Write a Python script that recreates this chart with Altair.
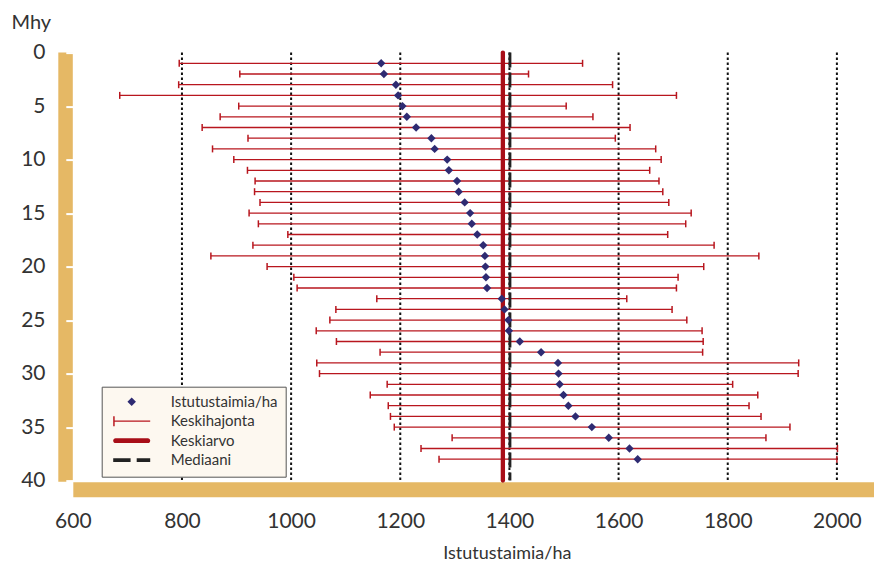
import altair as alt
import pandas as pd

# ---- data ----
mhy = list(range(1, 39))
taimia = [1165, 1170, 1192, 1196, 1204, 1212, 1229, 1257, 1263, 1286,
          1289, 1304, 1307, 1318, 1328, 1331, 1341, 1352, 1355, 1356,
          1357, 1359, 1386, 1391, 1398, 1399, 1419, 1458, 1489, 1490,
          1492, 1499, 1508, 1521, 1551, 1582, 1620, 1635]
ala = [795, 906, 794, 686, 904, 870, 837, 921, 856, 895,
       920, 934, 933, 943, 923, 940, 994, 930, 853, 956,
       1005, 1011, 1157, 1082, 1071, 1046, 1083, 1163, 1047, 1052,
       1176, 1145, 1178, 1182, 1189, 1295, 1238, 1271]
yla = [1534, 1435, 1589, 1706, 1504, 1553, 1621, 1594, 1668, 1678,
       1657, 1674, 1681, 1692, 1733, 1723, 1690, 1775, 1857, 1756,
       1709, 1706, 1615, 1698, 1725, 1753, 1755, 1754, 1930, 1929,
       1809, 1855, 1839, 1861, 1914, 1870, 2001, 2000]
mean_value = [1388]
median_value = [1401]
grid_values = [800, 1000, 1200, 1400, 1600, 1800, 2000]
x_ticks = [600, 800, 1000, 1200, 1400, 1600, 1800, 2000]
y_ticks = [0, 5, 10, 15, 20, 25, 30, 35, 40]
legend_labels = ["Istutustaimia/ha", "Keskihajonta", "Keskiarvo", "Mediaani"]

# ---- styling ----
ORANGE = "#E5B865"
CREAM = "#FDF8F0"
BAR_RED = "#B8161E"
MEAN_RED = "#A80E18"
NAVY = "#2E2B72"
DARK = "#222222"
TEXT = "#333333"
FONT = "Lato"
W, H = 801, 428

legend_paths = [
    "M0,-0.23L0.23,0L0,0.23L-0.23,0Z",
    "M-1,-0.035H1V0.035H-1Z M-1,-0.27H-0.92V0.27H-1Z",
    "M-0.873,-0.127H0.873A0.127,0.127 0 0 1 0.873,0.127H-0.873A0.127,0.127 0 0 1 -0.873,-0.127Z",
    "M-1,-0.1H-0.06V0.1H-1Z M0.27,-0.1H1V0.1H0.27Z",
]

df = pd.DataFrame({"Mhy": mhy, "Taimia": taimia, "Ala": ala, "Yla": yla})
mean_df = pd.DataFrame({"v": mean_value})
median_df = pd.DataFrame({"v": median_value})
grid_df = pd.DataFrame({"v": grid_values})
legend_df = pd.DataFrame({"lbl": legend_labels})
one_df = pd.DataFrame({"k": [0]})

xs = alt.Scale(domain=[600, 2067.6], nice=False, zero=False)
ys = alt.Scale(domain=[0, 40], reverse=True, nice=False, zero=False)

x_axis = alt.Axis(values=x_ticks, format="d", grid=False, ticks=False, tickSize=0,
                  domain=True, domainColor=ORANGE, domainWidth=15, domainCap="butt",
                  offset=8.6, labelPadding=21, labelFont=FONT, labelFontSize=21,
                  labelColor=TEXT, labelFlush=False, labelOverlap=False,
                  title="Istutustaimia/ha", titleFont=FONT,
                  titleFontSize=18, titleFontWeight="normal", titleColor=TEXT,
                  titleX=434, titleY=69.8, titleAlign="center", titleBaseline="alphabetic")
y_axis = alt.Axis(values=y_ticks, grid=False, domain=False, ticks=True, tickColor="white",
                  tickSize=7, tickWidth=2, labelPadding=20.8, labelFont=FONT,
                  labelFontSize=21, labelColor=TEXT, labelFlush=False, labelOverlap=False,
                  title="Mhy", titleAngle=0,
                  titleX=-42, titleY=-24.1, titleAlign="center", titleBaseline="alphabetic",
                  titleFont=FONT, titleFontSize=20, titleFontWeight="normal",
                  titleColor=TEXT, zindex=1)


def X(field, **kw):
    return alt.X(field, type="quantitative", scale=xs, axis=x_axis, **kw)


def Y(field):
    return alt.Y(field, type="quantitative", scale=ys, axis=y_axis)


grid = alt.Chart(grid_df).mark_rule(color="#111111", strokeWidth=2,
                                    strokeDash=[2.5, 2.5]).encode(x=X("v"))

left_strip = alt.Chart(one_df).mark_rect(color=ORANGE).encode(
    x=alt.value(-14.5), x2=alt.value(0), y=alt.value(0), y2=alt.value(H + 1.1))

bars = alt.Chart(df).mark_rule(color=BAR_RED, strokeWidth=1.3).encode(
    x=X("Ala"), x2="Yla", y=Y("Mhy"))

caps = alt.Chart(df).transform_fold(["Ala", "Yla"], as_=["k", "v"]).mark_tick(
    orient="vertical", color=BAR_RED, thickness=1.5, size=7, opacity=1).encode(
    x=X("v"), y=Y("Mhy"))

mean_rule = alt.Chart(mean_df).mark_rule(color=MEAN_RED, strokeWidth=4.3,
                                         strokeCap="round").encode(x=X("v"))
median_rule = alt.Chart(median_df).mark_rule(color=DARK, strokeWidth=2.8,
                                             strokeDash=[15, 5]).encode(x=X("v"))

points = alt.Chart(df).mark_point(shape="diamond", filled=True, size=70,
                                  color=NAVY, opacity=1).encode(
    x=X("Taimia"), y=Y("Mhy"))

legend_layer = alt.Chart(legend_df).transform_filter("false").mark_point(
    filled=True, opacity=1, size=1369).encode(
    color=alt.Color("lbl:N", scale=alt.Scale(domain=legend_labels,
                    range=[NAVY, BAR_RED, MEAN_RED, DARK]), legend=alt.Legend(title=None)),
    shape=alt.Shape("lbl:N", scale=alt.Scale(domain=legend_labels, range=legend_paths),
                    legend=alt.Legend(title=None)),
)

chart = alt.layer(grid, left_strip, bars, caps, mean_rule, median_rule, points,
                  legend_layer).properties(
    width=W, height=H,
    autosize=alt.AutoSizeParams(type="none"),
    padding={"left": 64.8, "top": 44.6, "right": 0, "bottom": 82.4},
).configure_view(fill=CREAM, stroke=None).configure_legend(
    orient="none", legendX=28.9, legendY=334.1, padding=8, rowPadding=4.5,
    symbolSize=1369, clipHeight=14, labelFont=FONT, labelFontSize=15,
    labelColor=TEXT, labelOffset=20.5, symbolOffset=3.5, fillColor=CREAM,
    strokeColor="#555555", symbolStrokeWidth=0, cornerRadius=0,
)

chart.save("out.html", embed_options={"renderer": "svg", "actions": False})
